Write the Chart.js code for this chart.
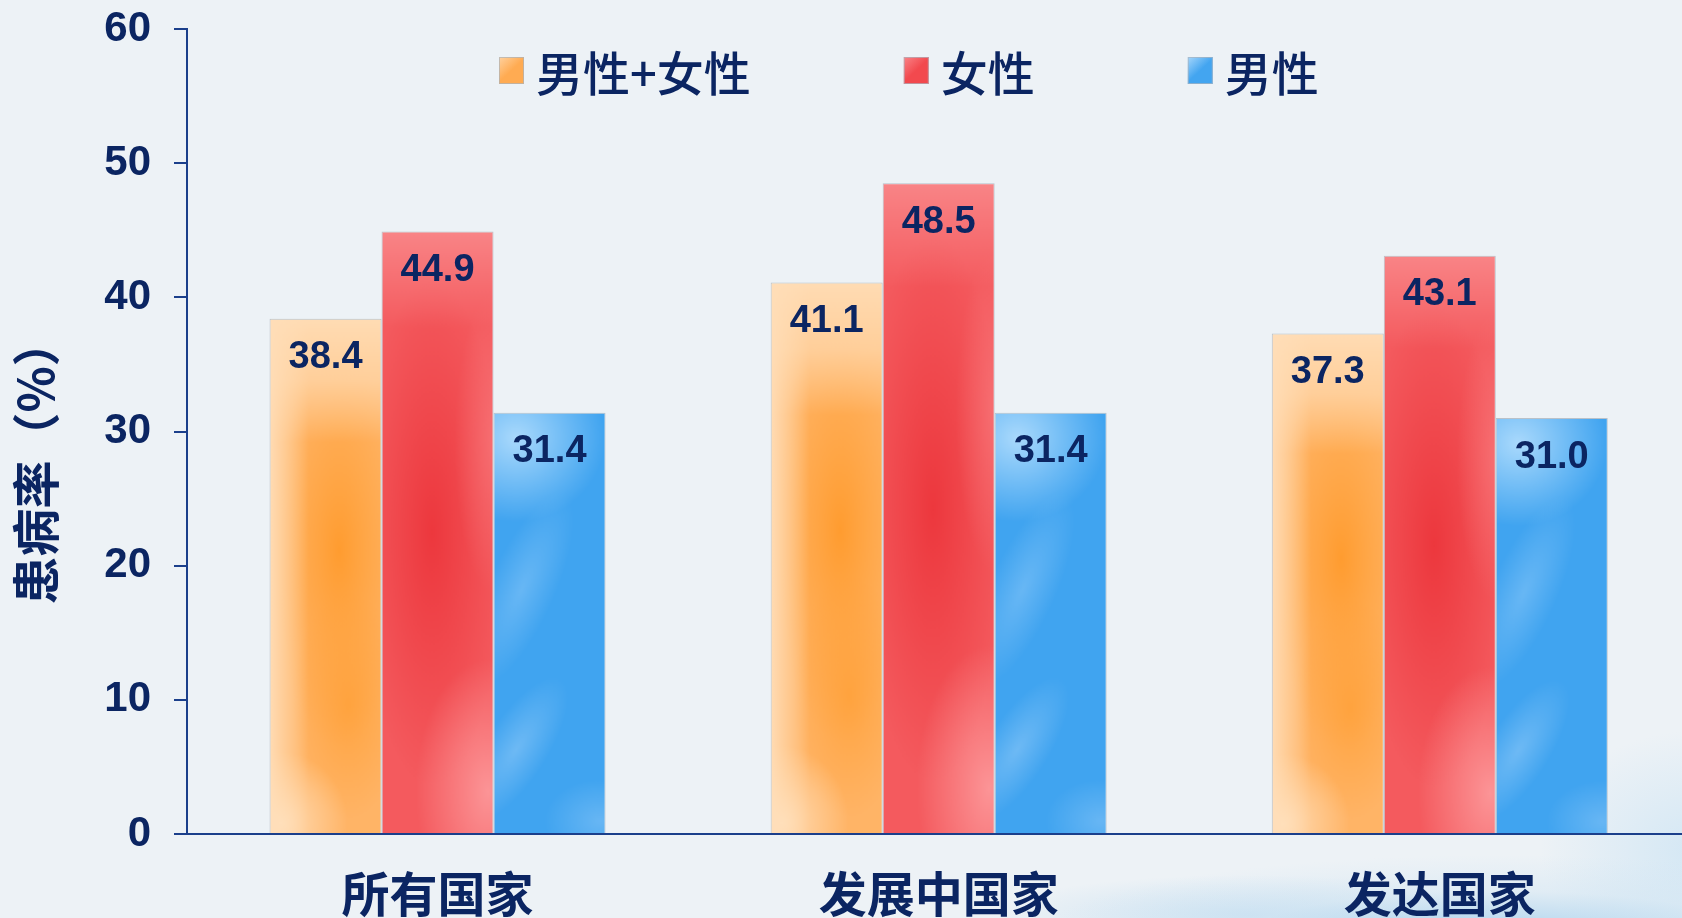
<!DOCTYPE html>
<html>
<head>
<meta charset="utf-8">
<script src="https://cdn.jsdelivr.net/npm/chart.js@4"></script>
<style>
  html, body { margin: 0; padding: 0; }
  body {
    width: 1682px; height: 918px; overflow: hidden;
    background:
      radial-gradient(ellipse 460px 80px at 1500px 935px, rgba(150,200,235,0.75), rgba(200,225,242,0.35) 55%, rgba(237,242,246,0) 100%),
      radial-gradient(ellipse 160px 120px at 1700px 850px, rgba(190,222,243,0.55), rgba(237,242,246,0) 100%),
      radial-gradient(ellipse 260px 40px at 1250px 915px, rgba(175,212,238,0.5), rgba(237,242,246,0) 100%),
      #edf2f6;
  }
  canvas { display: block; }
</style>
</head>
<body>
<canvas id="c" width="1682" height="918"></canvas>
<script>
// ---- data ----
const categories = ['所有国家', '发展中国家', '发达国家'];
const seriesNames = ['男性+女性', '女性', '男性'];
const bothSexes = [38.4, 41.1, 37.3];
const female = [44.9, 48.5, 43.1];
const male = [31.4, 31.4, 31.0];
const yMin = 0, yMax = 60, yStep = 10;
const yTitle = '患病率（%）';

// ---- styles ----
const NAVY = '#0b2562';
const AXIS = '#1b3f8b';
const CAT_PCT = 0.6705;
const X_MIN = -0.5, X_MAX = 2.4834;   // category axis window (right end runs past the canvas edge as in the original)
const baseColors = ['#ffab52', '#f2494e', '#43a5f0'];

function ellipseBlob(g, cx, cy, rx, ry, c0, c1) {
  g.save();
  g.translate(cx, cy);
  g.scale(1, ry / rx);
  const rg = g.createRadialGradient(0, 0, 0, 0, 0, rx);
  rg.addColorStop(0, c0);
  rg.addColorStop(1, c1);
  g.fillStyle = rg;
  g.beginPath();
  g.arc(0, 0, rx, 0, Math.PI * 2);
  g.fill();
  g.restore();
}

function makeTexture(kind, w, h) {
  const c = document.createElement('canvas');
  c.width = Math.max(1, Math.ceil(w) + 2);
  c.height = Math.max(1, Math.ceil(h) + 2);
  const g = c.getContext('2d');
  const W = c.width, H = c.height;
  if (kind === 0) {
    g.fillStyle = '#ffb466'; g.fillRect(0, 0, W, H);
    ellipseBlob(g, w * 0.62, h * 0.45, w * 0.6, h * 0.38, 'rgba(255,155,45,0.95)', 'rgba(255,160,55,0)');
    ellipseBlob(g, w * 0.7, h * 0.75, w * 0.5, h * 0.22, 'rgba(255,160,55,0.8)', 'rgba(255,160,55,0)');
    let lg = g.createLinearGradient(0, 0, 0, h * 0.24);
    lg.addColorStop(0, 'rgba(255,220,180,1)'); lg.addColorStop(0.5, 'rgba(255,214,168,0.8)'); lg.addColorStop(1, 'rgba(255,214,168,0)');
    g.fillStyle = lg; g.fillRect(0, 0, W, H);
    lg = g.createLinearGradient(0, 0, w * 0.35, 0);
    lg.addColorStop(0, 'rgba(255,222,184,0.95)'); lg.addColorStop(1, 'rgba(255,222,184,0)');
    g.fillStyle = lg; g.fillRect(0, 0, W, H);
    ellipseBlob(g, w * 0.1, h * 0.98, w * 0.6, h * 0.14, 'rgba(255,224,188,0.95)', 'rgba(255,224,188,0)');
  } else if (kind === 1) {
    g.fillStyle = '#f45a5e'; g.fillRect(0, 0, W, H);
    ellipseBlob(g, w * 0.45, h * 0.5, w * 0.65, h * 0.42, 'rgba(236,52,58,0.9)', 'rgba(236,52,58,0)');
    let lg = g.createLinearGradient(0, 0, 0, h * 0.16);
    lg.addColorStop(0, 'rgba(250,140,142,0.85)'); lg.addColorStop(1, 'rgba(250,140,142,0)');
    g.fillStyle = lg; g.fillRect(0, 0, W, H);
    ellipseBlob(g, w * 0.95, h * 0.93, w * 0.65, h * 0.22, 'rgba(253,155,157,0.9)', 'rgba(253,155,157,0)');
    ellipseBlob(g, w * 1.0, h * 0.35, w * 0.35, h * 0.25, 'rgba(250,130,133,0.55)', 'rgba(250,130,133,0)');
  } else {
    g.fillStyle = '#40a4f0'; g.fillRect(0, 0, W, H);
    ellipseBlob(g, w * 0.2, h * 0.06, w * 0.8, h * 0.2, 'rgba(175,220,253,0.95)', 'rgba(175,220,253,0)');
    g.save();
    g.translate(w * 0.25, h * 0.42); g.rotate(-1.15);
    ellipseBlob(g, 0, 0, h * 0.25, w * 0.3, 'rgba(130,196,248,0.6)', 'rgba(130,196,248,0)');
    g.restore();
    g.save();
    g.translate(w * 0.2, h * 0.8); g.rotate(-1.0);
    ellipseBlob(g, 0, 0, h * 0.2, w * 0.28, 'rgba(140,200,248,0.6)', 'rgba(140,200,248,0)');
    g.restore();
    ellipseBlob(g, w * 0.95, h * 0.97, w * 0.5, h * 0.1, 'rgba(130,195,247,0.6)', 'rgba(130,195,247,0)');
  }
  return c;
}

const texCache = {};
function barFill(ctx) {
  const chart = ctx.chart;
  const ds = ctx.datasetIndex;
  if (ctx.dataIndex === undefined || !chart.scales || !chart.scales.x || !chart.chartArea) return baseColors[ds];
  const xs = chart.scales.x, ys = chart.scales.y;
  const center = xs.getPixelForValue(ctx.dataIndex);
  const catW = xs.getPixelForValue(1) - xs.getPixelForValue(0);
  const barW = catW * CAT_PCT / seriesNames.length;
  const left = center - catW * CAT_PCT / 2 + ds * barW;
  const v = seriesData[ds][ctx.dataIndex];
  const top = ys.getPixelForValue(v);
  const bottom = ys.getPixelForValue(0);
  const key = ds + '_' + ctx.dataIndex + '_' + Math.round(barW) + '_' + Math.round(bottom - top);
  if (!texCache[key]) texCache[key] = makeTexture(ds, barW, bottom - top);
  const pat = chart.ctx.createPattern(texCache[key], 'repeat');
  pat.setTransform(new DOMMatrix().translate(left, top));
  return pat;
}

// ---- plugins ----
const valueLabels = {
  id: 'valueLabels',
  afterDatasetsDraw(chart) {
    const c = chart.ctx;
    c.save();
    c.font = 'bold 38px "Liberation Sans", Arial, sans-serif';
    c.fillStyle = NAVY;
    c.textAlign = 'center';
    c.textBaseline = 'middle';
    chart.data.datasets.forEach((d, i) => {
      chart.getDatasetMeta(i).data.forEach((el, j) => {
        c.fillText(seriesData[i][j].toFixed(1), el.x, el.y + 39);
      });
    });
    c.restore();
  }
};

const yTitlePlugin = {
  id: 'yTitlePlugin',
  afterDraw(chart) {
    const c = chart.ctx, a = chart.chartArea;
    c.save();
    c.translate(36, (a.top + a.bottom) / 2 + 30);
    c.rotate(-Math.PI / 2);
    c.font = 'bold 48px "Noto Sans CJK SC", sans-serif';
    c.fillStyle = NAVY;
    c.textAlign = 'center';
    c.textBaseline = 'middle';
    c.fillText(yTitle, 0, 0);
    c.restore();
  }
};

const legendPlugin = {
  id: 'overlayLegend',
  afterDraw(chart) {
    const c = chart.ctx;
    c.save();
    c.font = '500 47px "Noto Sans CJK SC", sans-serif';
    c.textBaseline = 'middle';
    c.textAlign = 'left';
    let x = 499;
    const boxY = 57, boxW = 25, boxH = 27, textY = 73;
    chart.data.datasets.forEach((d, i) => {
      const lg = c.createLinearGradient(x, boxY, x + boxW, boxY + boxH);
      const lights = ['#ffd2a0', '#f98488', '#a6d6fb'];
      lg.addColorStop(0, lights[i]);
      lg.addColorStop(0.5, baseColors[i]);
      lg.addColorStop(1, baseColors[i]);
      c.fillStyle = lg;
      c.fillRect(x, boxY, boxW, boxH);
      c.strokeStyle = 'rgba(170,180,190,0.7)';
      c.lineWidth = 1;
      c.strokeRect(x + 0.5, boxY + 0.5, boxW - 1, boxH - 1);
      c.fillStyle = NAVY;
      c.fillText(d.label, x + boxW + 12, textY);
      x += boxW + 12 + c.measureText(d.label).width + 153;
    });
    c.restore();
  }
};

const seriesData = [bothSexes, female, male];

new Chart(document.getElementById('c'), {
  type: 'bar',
  data: {
    datasets: seriesNames.map((name, i) => ({
      label: name,
      data: seriesData[i].map((v, j) => ({ x: j, y: v })),
      backgroundColor: barFill,
      borderColor: 'rgba(150,160,172,0.6)',
      borderWidth: 1,
      categoryPercentage: CAT_PCT,
      barPercentage: 1.0
    }))
  },
  options: {
    responsive: false,
    animation: false,
    devicePixelRatio: 1,
    events: [],
    layout: { padding: { top: 29, left: 0, right: 0, bottom: 0 } },
    plugins: { legend: { display: false }, tooltip: { enabled: false }, title: { display: false } },
    scales: {
      x: {
        type: 'linear',
        min: X_MIN, max: X_MAX,
        offset: false,
        grid: { display: false, drawTicks: false, tickLength: 0 },
        border: { display: true, color: AXIS, width: 2 },
        afterBuildTicks(scale) { scale.ticks = categories.map((_, i) => ({ value: i })); },
        ticks: {
          color: NAVY,
          padding: 31,
          autoSkip: false,
          maxRotation: 0,
          callback: (v) => categories[v],
          font: { family: '"Noto Sans CJK SC", sans-serif', size: 48, weight: 'bold' }
        },
        afterFit(scale) { scale.height = 84; scale.paddingLeft = 0; scale.paddingRight = 0; }
      },
      y: {
        min: yMin, max: yMax,
        grid: { display: true, drawOnChartArea: false, drawTicks: true, tickLength: 13, color: AXIS, lineWidth: 2 },
        border: { display: true, color: AXIS, width: 2 },
        ticks: {
          stepSize: yStep,
          color: NAVY,
          padding: 23,
          font: { family: '"Liberation Sans", Arial, sans-serif', size: 42, weight: 'bold' }
        },
        afterFit(scale) { scale.width = 187; scale.paddingTop = 0; scale.paddingBottom = 0; }
      }
    }
  },
  plugins: [valueLabels, yTitlePlugin, legendPlugin]
});
</script>
</body>
</html>
